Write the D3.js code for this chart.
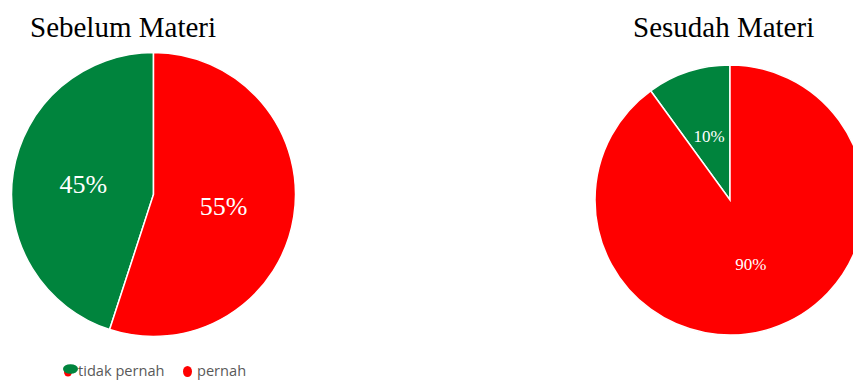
<!DOCTYPE html>
<html>
<head>
<meta charset="utf-8">
<script src="https://cdn.jsdelivr.net/npm/d3@7"></script>
<style>
    body { margin: 0; background: #fff; overflow: hidden; }
    svg { display: block; }
</style>
</head>
<body>
<div id="chart"></div>
<script>
// data
const categories = ["tidak pernah", "pernah"];
const sebelumValues = [45, 55];
const sesudahValues = [10, 90];
const chartTitles = ["Sebelum Materi", "Sesudah Materi"];
const colors = ["#00843d", "#ff0000"];

const width = 853, height = 380;

const svg = d3.select("#chart").append("svg")
    .attr("width", width)
    .attr("height", height);

let color = d3.scaleOrdinal().domain(categories).range(colors);

// one pie per panel
let panels = [
    {title: chartTitles[0], values: sebelumValues, cx: 153.5, cy: 194.5, r: 142, titleX: 30, labelSize: 26},
    {title: chartTitles[1], values: sesudahValues, cx: 730, cy: 200, r: 135, titleX: 633, labelSize: 17}
];

panels.forEach(p => {
    let data = categories.map((c, i) => ({key: c, value: p.values[i]}));
    let total = d3.sum(data, d => d.value);
    // green slice ends at 12 o'clock, red starts there going clockwise
    let offset = -2 * Math.PI * data[0].value / total;

    let pie = d3.pie()
        .sort(null)
        .value(d => d.value)
        .startAngle(offset)
        .endAngle(2 * Math.PI + offset);

    let arc = d3.arc().innerRadius(0).outerRadius(p.r);

    let g = svg.append("g")
        .attr("transform", "translate(" + p.cx + "," + p.cy + ")");

    g.selectAll("path")
        .data(pie(data))
        .enter()
        .append("path")
        .attr("d", arc)
        .attr("fill", d => color(d.data.key))
        .attr("stroke", "#fff")
        .attr("stroke-width", 1.5);

    g.selectAll("text")
        .data(pie(data))
        .enter()
        .append("text")
        .attr("transform", d => "translate(" + arc.centroid(d) + ")")
        .attr("text-anchor", "middle")
        .attr("dy", "0.35em")
        .attr("fill", "#fff")
        .style("font-family", "'Liberation Serif', 'Times New Roman', serif")
        .style("font-size", p.labelSize + "px")
        .text(d => Math.round(d.value / total * 100) + "%");

    svg.append("text")
        .attr("x", p.titleX)
        .attr("y", 37)
        .attr("fill", "#000")
        .style("font-family", "'Liberation Serif', 'Times New Roman', serif")
        .style("font-size", "29px")
        .text(p.title);
});

// legend
let legend = svg.append("g").attr("class", "legend");

// green marker sits on top of a small red one
legend.append("ellipse")
    .attr("cx", 68).attr("cy", 372).attr("rx", 4).attr("ry", 4.5)
    .attr("fill", colors[1]);
legend.append("ellipse")
    .attr("cx", 70.5).attr("cy", 369).attr("rx", 7.5).attr("ry", 4.8)
    .attr("fill", colors[0]);
legend.append("ellipse")
    .attr("cx", 187.5).attr("cy", 371.5).attr("rx", 4.5).attr("ry", 5.5)
    .attr("fill", colors[1]);

let legendX = [78, 197];
legend.selectAll("text")
    .data(categories)
    .enter()
    .append("text")
    .attr("x", (d, i) => legendX[i])
    .attr("y", 375.5)
    .attr("fill", "#595959")
    .style("font-family", "'Open Sans', sans-serif")
    .style("font-size", "14.6px")
    .text(d => d);
</script>
</body>
</html>
